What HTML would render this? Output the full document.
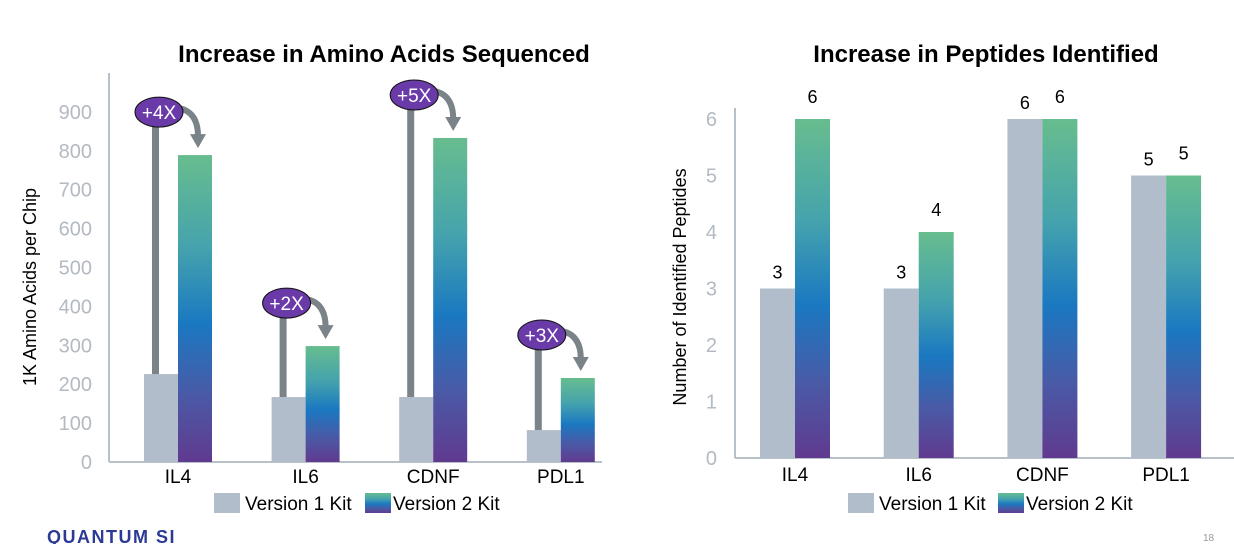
<!DOCTYPE html>
<html><head><meta charset="utf-8"><style>
body{margin:0;background:#fff;width:1234px;height:544px;overflow:hidden;font-family:"Liberation Sans",Arial,sans-serif}
</style></head><body>
<svg id="svg" width="1234" height="544" viewBox="0 0 1234 544">
<defs>
<linearGradient id="g2" x1="0" y1="0" x2="0" y2="1">
<stop offset="0" stop-color="#67bd8e"/><stop offset="0.3" stop-color="#45a3ad"/><stop offset="0.55" stop-color="#1a78c1"/><stop offset="0.78" stop-color="#4a5aa6"/><stop offset="1" stop-color="#603a8f"/>
</linearGradient>
</defs>
<text x="384" y="62" text-anchor="middle" font-size="24" font-weight="bold" fill="#000">Increase in Amino Acids Sequenced</text>
<text x="986" y="62" text-anchor="middle" font-size="24" font-weight="bold" fill="#000">Increase in Peptides Identified</text>
<g id="left"></g>
<g id="right"></g>
<text x="47" y="543" font-size="18" font-weight="bold" letter-spacing="1.5" fill="#2b3a94">QUANTUM SI</text>
<text x="1203" y="541" font-size="10" fill="#999">18</text>
</svg>
<script>
const NS="http://www.w3.org/2000/svg";
const categories=["IL4","IL6","CDNF","PDL1"];
const aaV1=[226,167,167,82];
const aaV2=[789,298,833,216];
const aaMult=["+4X","+2X","+5X","+3X"];
const aaTicks=[0,100,200,300,400,500,600,700,800,900];
const pepV1=[3,3,6,5];
const pepV2=[6,4,6,5];
const pepTicks=[0,1,2,3,4,5,6];

function mk(parent,tag,attrs,text){const e=document.createElementNS(NS,tag);for(const k in attrs)e.setAttribute(k,attrs[k]);if(text!==undefined)e.textContent=text;parent.appendChild(e);return e;}

function chart(g,cfg){
  const y=v=>cfg.base-v*cfg.unit;
  const cx=i=>cfg.c0+i*cfg.band;
  let e;
  e=mk(g,"line",{x1:cfg.ax,y1:cfg.top,x2:cfg.ax,y2:cfg.base,stroke:"#b8c0c8","stroke-width":2});
  
  
  e=mk(g,"line",{x1:cfg.ax,y1:cfg.base,x2:cfg.xend,y2:cfg.base,stroke:"#b8c0c8","stroke-width":2});
  
  
  cfg.ticks.forEach(t=>{
    e=mk(g,"text",{x:cfg.tx,y:y(t)+7,"text-anchor":"end","font-size":20,fill:"#b3bac2"},t);
    
    
  });
  e=mk(g,"text",{transform:`translate(${cfg.ytx},${cfg.yty}) rotate(-90)`,"text-anchor":"middle","font-size":18,fill:"#000"},cfg.ytitle);
  
  
  const w=cfg.bw;
  categories.forEach((c,i)=>{
    const x=cx(i);
    e=mk(g,"rect",{x:x-w,y:y(cfg.v1[i]),width:w,height:cfg.base-y(cfg.v1[i]),fill:"#b2bdcb"});
    
    
    e=mk(g,"rect",{x:x,y:y(cfg.v2[i]),width:w,height:cfg.base-y(cfg.v2[i]),fill:"url(#g2)"});
    
    
    e=mk(g,"text",{x:x,y:cfg.xly,"text-anchor":"middle","font-size":19,fill:"#000"},c);
    
    
    if(cfg.labels){
      e=mk(g,"text",{x:x-w/2,y:y(cfg.v1[i])-10,"text-anchor":"middle","font-size":18,fill:"#000"},cfg.v1[i]);
      
      
      e=mk(g,"text",{x:x+w/2,y:y(cfg.v2[i])-16,"text-anchor":"middle","font-size":18,fill:"#000"},cfg.v2[i]);
      
      
    }
    if(cfg.mult){
      const ey=y(cfg.v2[i])-43, ex=x-w/2-2;
      e=mk(g,"rect",{x:x-w+8,y:ey,width:7,height:y(cfg.v1[i])-ey,fill:"#7a8488"});
      
      
      const tx=x+w/2+3;
      e=mk(g,"path",{d:`M${ex+20} ${ey-4} Q${tx} ${ey} ${tx} ${ey+24}`,fill:"none",stroke:"#7a8488","stroke-width":6});
      
      
      e=mk(g,"path",{d:`M${tx-8} ${ey+22} L${tx+8} ${ey+22} L${tx} ${ey+36} Z`,fill:"#7a8488"});
      
      
      e=mk(g,"ellipse",{cx:ex,cy:ey,rx:24,ry:15,fill:"#6a3aa8",stroke:"#111","stroke-width":1});
      
      
      e=mk(g,"text",{x:ex,y:ey+7,"text-anchor":"middle","font-size":19,fill:"#fff"},cfg.mult[i]);
      
      
    }
  });
  const L=cfg.leg;
  e=mk(g,"rect",{x:L[0],y:493,width:26,height:20,fill:"#b2bdcb"});
  
  
  e=mk(g,"text",{x:L[0]+31,y:510,"font-size":19,fill:"#000"},"Version 1 Kit");
  
  
  e=mk(g,"rect",{x:L[1],y:493,width:26,height:20,fill:"url(#g2)"});
  
  
  e=mk(g,"text",{x:L[1]+28,y:510,"font-size":19,fill:"#000"},"Version 2 Kit");
  
  
}
chart(document.getElementById("left"),{ax:109,top:73,base:462,xend:602,unit:0.389,tx:92,ticks:aaTicks,ytx:36,yty:287,ytitle:"1K Amino Acids per Chip",c0:178,band:127.6,bw:34,xly:483,v1:aaV1,v2:aaV2,mult:aaMult,leg:[214,365]});
chart(document.getElementById("right"),{ax:735,top:108,base:458,xend:1234,unit:56.5,tx:717,ticks:pepTicks,ytx:686,yty:287,ytitle:"Number of Identified Peptides",c0:795,band:123.7,bw:35,xly:481,v1:pepV1,v2:pepV2,labels:true,leg:[848,998]});
</script>
</body></html>
